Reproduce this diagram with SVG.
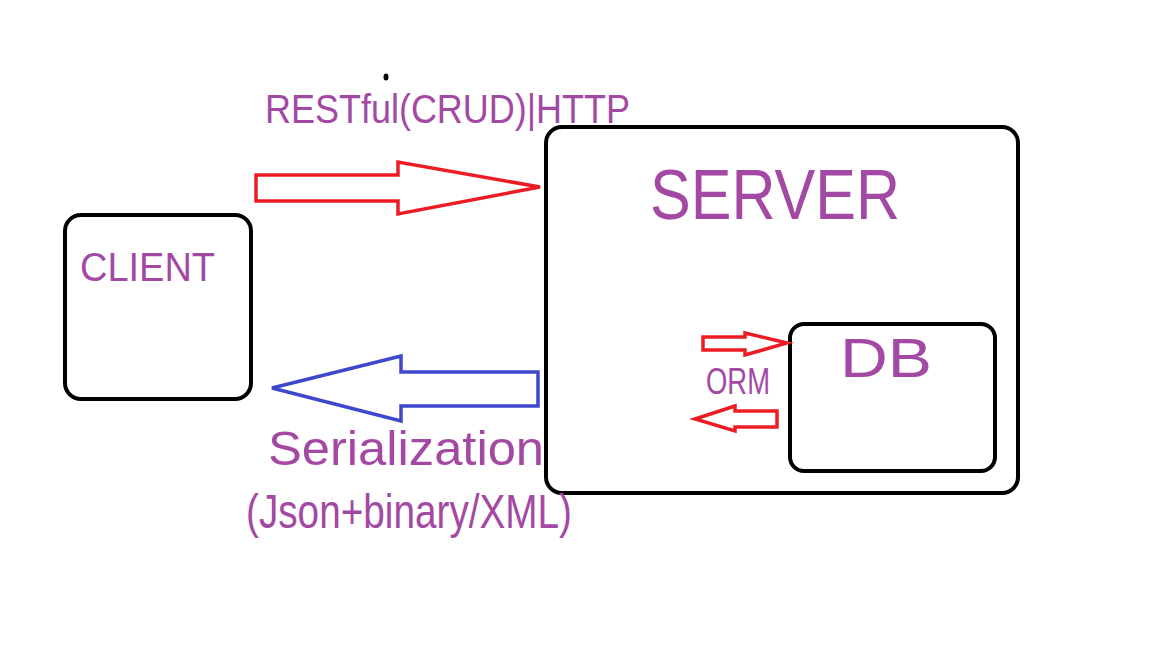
<svg xmlns="http://www.w3.org/2000/svg" width="1152" height="648" viewBox="0 0 1152 648">
<style>
.box{fill:none;stroke:#000;stroke-width:4}
.lbl{fill:#a349a4;font-family:"Liberation Sans",Arial,sans-serif}
.red{fill:none;stroke:#ed1c24;stroke-width:3.5;stroke-linejoin:miter}
.blue{fill:none;stroke:#3f48cc;stroke-width:3.5;stroke-linejoin:miter}
</style>
<rect width="1152" height="648" fill="#fff"/>
<ellipse cx="386" cy="77" rx="2.5" ry="3.5" fill="#000"/>
<g id="client">
<rect class="box" x="65" y="215" width="186" height="184" rx="16"/>
<text class="lbl" x="80" y="281" font-size="40" textLength="135" lengthAdjust="spacingAndGlyphs">CLIENT</text>
</g>
<g id="server">
<rect class="box" x="546" y="127" width="472" height="366" rx="16"/>
<text class="lbl" x="650" y="219" font-size="70" textLength="250" lengthAdjust="spacingAndGlyphs">SERVER</text>
</g>
<g id="db">
<rect class="box" x="790" y="324" width="205" height="147" rx="14"/>
<text class="lbl" x="840" y="377" font-size="56" textLength="92" lengthAdjust="spacingAndGlyphs">DB</text>
</g>
<g id="connectors">
<polygon class="red" points="256,175 398,175 398,162 540,187 398,214 398,201 256,201"/>
<polygon class="blue" points="538,372 401,372 401,356 272,388 401,421 401,406 538,406"/>
<polygon class="red" points="703,337 745,337 745,333 787,343 745,355 745,350 703,350"/>
<polygon class="red" points="777,411 735,411 735,406 695,419 735,431 735,427 777,427"/>
</g>
<g id="labels">
<text class="lbl" x="265" y="123" font-size="40" textLength="365" lengthAdjust="spacingAndGlyphs">RESTful(CRUD)|HTTP</text>
<text class="lbl" x="706" y="394" font-size="36" textLength="64" lengthAdjust="spacingAndGlyphs">ORM</text>
<text class="lbl" x="268" y="465" font-size="48" textLength="276" lengthAdjust="spacingAndGlyphs">Serialization</text>
<text class="lbl" x="246" y="528" font-size="48" textLength="326" lengthAdjust="spacingAndGlyphs">(Json+binary/XML)</text>
</g>
</svg>
